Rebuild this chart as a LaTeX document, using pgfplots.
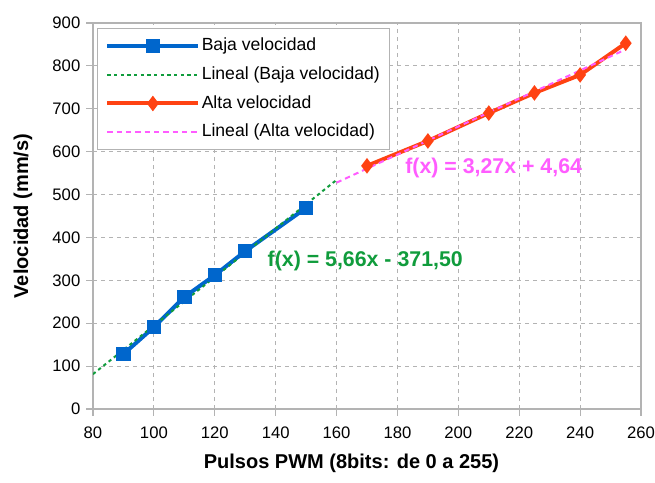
\documentclass[border=0pt]{standalone}
\usepackage{pgfplots}
\pgfplotsset{compat=1.18}
\usepackage{fontspec}
\setmainfont{Liberation Sans}
\definecolor{cblue}{HTML}{0066CC}
\definecolor{cgreen}{HTML}{109C3C}
\definecolor{cred}{HTML}{FF4212}
\definecolor{cpink}{HTML}{FF5CFF}
\definecolor{cgrid}{HTML}{B3B3B3}
\begin{document}
\begin{tikzpicture}
\useasboundingbox (-69.75pt,-54.75pt) rectangle (421.5pt,306.75pt);
\begin{axis}[
  at={(0pt,0pt)}, anchor=south west,
  scale only axis, width=411pt, height=289.5pt,
  xmin=80, xmax=260, ymin=0, ymax=900,
  xtick={80,100,...,260}, ytick={0,100,...,900},
  /pgf/number format/assume math mode=true,
  tick label style={font=\fontsize{12.5}{14}\selectfont, text=black},
  xticklabel style={yshift=-5pt},
  yticklabel style={xshift=-1pt},
  axis line style={cgrid, line width=0.8pt},
  tick style={cgrid, line width=0.8pt},
  tick align=outside, major tick length=5pt,
  xtick pos=bottom, ytick pos=left,
  grid=major, major grid style={cgrid, dashed, line width=0.6pt},
  xlabel={\textbf{Pulsos PWM (8bits: de 0 a 255)}},
  ylabel={\textbf{Velocidad (mm/s)}},
  label style={font=\fontsize{15}{17}\selectfont},
  xlabel style={at={([yshift=-40.5pt]rel axis cs:0.4717,0)}, anchor=center},
  ylabel style={at={([xshift=-52.5pt]rel axis cs:0,0.5)}, anchor=center},
  legend style={at={(rel axis cs:0.007,0.987)}, anchor=north west,
    draw=cgrid, line width=0.8pt, font=\fontsize{13.2}{15}\selectfont,
    nodes={text height=10pt, text depth=3pt, inner sep=1pt},
    row sep=6.6pt, inner xsep=6pt, inner ysep=5.5pt, fill=white},
  legend cell align=left,
  legend image code/.code={\draw[mark repeat=2,mark phase=2,#1] plot coordinates {(0.35cm,0cm) (1.55cm,0cm) (2.75cm,0cm)};},
]
\addplot[cblue, line width=3pt, mark=square*, mark size=3.9pt, mark options={solid}] coordinates {
(90,128) (100,191) (110,261) (120,312) (130,368) (150,469)};
\addlegendentry{Baja velocidad}
\addplot[cgreen, line width=1.5pt, dash pattern=on 2.5pt off 2.5pt] coordinates {
(80,81.3) (160,534.1)};
\addlegendentry{Lineal (Baja velocidad)}
\addplot[cred, line width=3pt, mark=diamond*, mark size=3.4pt, mark options={solid}] coordinates {
(170,567) (190,625) (210,690) (225,737) (240,779) (255,853)};
\addlegendentry{Alta velocidad}
\addplot[cpink, line width=1.5pt, dash pattern=on 4pt off 3pt] coordinates {
(160,527.8) (255,838.5)};
\addlegendentry{Lineal (Alta velocidad)}
\node[anchor=west, text=cgreen, font=\fontsize{16}{18}\selectfont\bfseries, inner sep=0pt] at (axis cs:137.3,345) {f(x) = 5,66x - 371,50};
\node[anchor=west, text=cpink, font=\fontsize{16}{18}\selectfont\bfseries, inner sep=0pt] at (axis cs:182.5,562) {f(x) = 3,27x + 4,64};
\end{axis}
\end{tikzpicture}
\end{document}
